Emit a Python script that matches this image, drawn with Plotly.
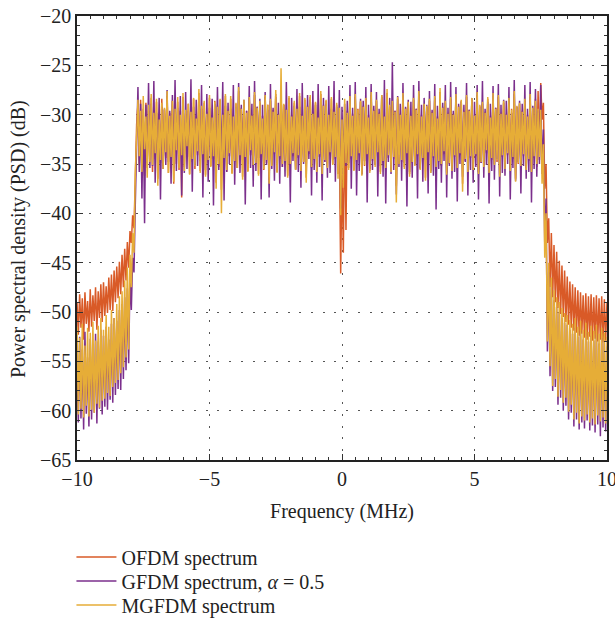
import numpy as np
import plotly.graph_objects as go

# ---------------- data (dB) ----------------
# left out-of-band segment: x = -10.00 ... -7.75 (step 0.05)
ofdm_left = [-49.0, -52.3, -48.2, -51.6, -48.6, -52.8, -48.0, -51.2, -48.9, -52.0,
             -47.7, -51.5, -48.3, -50.9, -47.5, -51.8, -47.9, -50.6, -47.2, -51.0,
             -47.0, -50.4, -47.4, -50.1, -46.5, -49.8, -46.2, -49.9, -45.8, -49.0,
             -45.4, -48.6, -44.9, -48.2, -44.2, -47.5, -43.6, -46.8, -42.9, -45.5,
             -41.8, -43.0, -40.2, -41.5, -36.5, -31.0]
gfdm_left = [-55.0, -61.2, -52.5, -60.8, -53.8, -61.9, -52.0, -60.3, -54.6, -61.6,
             -52.7, -60.9, -53.5, -60.2, -52.2, -61.3, -53.0, -59.8, -51.8, -60.4,
             -52.4, -59.6, -51.5, -59.9, -52.8, -58.9, -51.2, -59.2, -50.6, -58.4,
             -50.9, -57.8, -49.8, -57.9, -49.2, -56.8, -48.5, -55.9, -47.6, -55.2,
             -46.3, -49.8, -44.5, -46.0, -39.0, -33.5]
mgfdm_left = [-51.5, -60.4, -52.6, -59.8, -51.2, -60.7, -53.4, -59.5, -51.6, -60.6,
              -52.1, -59.9, -51.0, -60.2, -52.9, -59.3, -51.4, -59.7, -50.6, -59.0,
              -51.8, -58.8, -50.3, -58.2, -51.5, -58.5, -49.8, -57.6, -50.6, -57.2,
              -49.2, -56.9, -48.4, -56.2, -47.9, -55.6, -46.8, -54.6, -45.5, -53.8,
              -44.2, -47.5, -42.0, -44.0, -36.0, -31.5]

# in-band segment: x = -7.70 ... 7.45 (step 0.05)
ofdm_band = [
    -29.0, -35.1, -28.5, -34.6, -30.0, -36.2, -28.8, -35.4, -29.6, -34.0,
    -28.3, -35.8, -29.9, -34.5, -28.7, -36.5, -30.1, -34.9, -28.4, -35.2,
    -29.5, -34.4, -28.1, -35.9, -29.8, -34.7, -28.6, -37.0, -29.2, -35.0,
    -28.7, -35.6, -29.6, -38.4, -28.2, -35.3, -29.9, -34.2, -28.9, -36.0,
    -29.3, -34.8, -28.4, -35.5, -30.0, -34.1, -27.8, -35.7, -29.4, -34.6,
    -28.8, -36.1, -29.7, -34.9, -28.3, -35.2, -30.2, -34.5, -28.6, -36.9,
    -29.1, -35.3, -28.5, -37.6, -29.8, -34.7, -28.1, -35.8, -29.5, -34.2,
    -28.4, -35.9, -30.0, -34.8, -28.9, -35.4, -27.6, -34.4, -29.3, -36.3,
    -28.7, -34.6, -29.6, -35.7, -28.3, -34.1, -30.0, -35.2, -28.0, -35.0,
    -29.2, -36.0, -28.8, -34.3, -30.1, -35.6, -28.2, -34.9, -29.0, -36.6,
    -28.6, -35.1, -29.5, -34.0, -27.9, -35.8, -29.9, -34.5, -28.0, -35.3,
    -29.0, -34.9, -29.4, -36.2, -28.3, -35.0, -30.0, -34.2, -28.8, -35.5,
    -29.3, -34.4, -28.1, -35.6, -29.9, -34.8, -28.5, -36.4, -29.1, -34.0,
    -28.2, -35.4, -29.7, -34.6, -28.8, -35.7, -30.1, -34.3, -27.9, -35.9,
    -29.0, -34.8, -28.6, -35.3, -29.8, -34.1, -28.4, -35.0, -29.5, -34.5,
    -29.0, -36.0, -33.0, -46.1, -35.5, -44.0, -30.5, -41.7, -29.6, -35.4,
    -28.3, -34.5, -29.9, -35.6, -28.2, -34.8, -29.4, -34.1, -28.7, -36.0,
    -29.1, -35.2, -28.4, -34.3, -30.0, -35.7, -28.0, -34.7, -29.5, -35.1,
    -28.6, -34.0, -29.8, -35.8, -28.2, -34.9, -30.1, -35.3, -27.8, -34.4,
    -29.2, -35.6, -28.7, -34.5, -29.6, -37.2, -28.4, -35.0, -29.9, -34.8,
    -28.0, -35.3, -29.3, -34.1, -28.8, -36.0, -30.0, -34.9, -28.5, -35.0,
    -29.4, -34.2, -27.9, -35.5, -30.0, -34.6, -29.0, -36.4, -29.2, -34.0,
    -28.6, -35.7, -29.7, -34.4, -28.3, -35.1, -30.2, -34.8, -27.7, -35.2,
    -29.2, -34.0, -28.8, -35.9, -29.8, -35.0, -28.4, -35.5, -29.9, -34.3,
    -28.1, -35.2, -29.1, -34.1, -28.7, -37.0, -29.6, -34.7, -28.2, -35.6,
    -29.5, -34.4, -28.5, -35.4, -30.0, -34.2, -28.0, -35.8, -29.1, -34.9,
    -28.9, -35.1, -29.7, -33.9, -28.4, -35.7, -30.1, -34.6, -28.1, -35.0,
    -29.3, -34.8, -28.2, -36.1, -29.8, -34.3, -28.8, -35.3, -29.9, -34.1,
    -28.5, -35.5, -29.4, -34.5, -27.9, -36.5, -29.2, -35.0, -28.9, -35.1,
    -29.6, -34.2, -28.6, -35.4, -30.0, -34.7, -28.2, -35.6, -29.3, -34.4,
    -28.4, -35.3, -27.6, -34.6]
gfdm_band = [
    -27.2, -35.8, -28.9, -38.5, -29.4, -41.0, -29.0, -34.9, -26.8, -35.4,
    -28.9, -35.2, -26.6, -36.9, -29.8, -34.4, -28.3, -38.6, -29.2, -35.5,
    -29.4, -35.1, -27.5, -34.8, -29.6, -37.0, -28.0, -35.4, -26.5, -35.7,
    -29.3, -34.6, -28.1, -38.2, -29.1, -35.9, -27.7, -35.5, -29.6, -34.3,
    -26.4, -37.8, -29.2, -35.1, -28.5, -35.2, -29.0, -34.7, -27.0, -38.4,
    -29.7, -35.6, -27.9, -36.8, -29.3, -34.5, -28.4, -39.2, -28.9, -35.3,
    -27.2, -35.6, -29.5, -34.9, -26.7, -38.7, -29.1, -35.8, -28.8, -35.0,
    -29.4, -34.8, -27.0, -37.1, -29.2, -35.4, -26.8, -35.9, -29.0, -34.6,
    -28.5, -39.1, -29.6, -35.0, -27.1, -35.4, -28.9, -37.3, -26.6, -35.7,
    -29.2, -34.4, -28.4, -38.6, -29.0, -35.2, -27.7, -35.1, -29.5, -38.4,
    -26.9, -35.5, -29.3, -36.7, -28.2, -34.9, -28.8, -37.0, -27.6, -35.3,
    -29.0, -36.3, -26.7, -35.1, -29.6, -38.9, -28.3, -34.7, -29.1, -35.6,
    -27.4, -35.8, -29.2, -37.4, -26.8, -35.0, -29.7, -35.2, -28.0, -34.5,
    -28.5, -38.2, -27.6, -35.6, -29.0, -36.9, -26.9, -35.3, -29.1, -38.7,
    -28.3, -34.8, -28.9, -36.4, -27.1, -35.9, -29.4, -34.6, -26.6, -36.8,
    -29.2, -35.4, -27.5, -39.5, -29.2, -36.0, -28.9, -35.2, -28.6, -34.9,
    -27.0, -37.5, -29.3, -35.0, -26.7, -38.2, -29.8, -35.7, -28.4, -36.1,
    -28.6, -34.7, -27.2, -38.9, -29.0, -35.5, -26.9, -35.6, -29.1, -35.1,
    -27.7, -38.3, -29.4, -35.2, -28.0, -36.3, -26.5, -39.0, -29.1, -34.8,
    -28.3, -36.0, -24.7, -35.6, -29.6, -38.1, -28.1, -35.3, -28.9, -36.7,
    -26.8, -34.9, -29.2, -39.3, -28.5, -35.8, -28.7, -36.4, -27.0, -35.1,
    -29.4, -38.5, -26.6, -35.4, -29.0, -36.8, -28.3, -34.6, -29.0, -38.0,
    -27.6, -35.9, -29.5, -36.2, -26.9, -39.6, -29.1, -35.5, -28.4, -36.9,
    -28.8, -34.7, -27.0, -38.4, -29.3, -35.2, -26.7, -36.5, -29.6, -35.8,
    -27.2, -38.8, -28.9, -35.0, -28.6, -36.3, -29.0, -34.8, -26.8, -38.2,
    -29.5, -35.6, -28.3, -36.9, -28.7, -35.3, -27.0, -38.6, -29.2, -34.9,
    -26.6, -36.4, -29.4, -35.1, -28.7, -39.0, -28.9, -35.7, -27.1, -36.6,
    -29.3, -34.5, -26.9, -38.3, -29.0, -35.9, -28.5, -36.2, -28.6, -35.0,
    -27.2, -38.6, -29.8, -35.4, -26.5, -36.7, -29.2, -34.8, -28.6, -38.0,
    -28.9, -35.2, -27.0, -36.5, -29.4, -35.8, -26.7, -38.9, -29.1, -35.5,
    -27.4, -36.3, -29.6, -35.0]
mgfdm_band = [
    -28.5, -34.2, -29.6, -35.8, -28.1, -33.5, -30.2, -36.4, -29.0, -34.8,
    -27.9, -35.1, -29.8, -33.9, -28.4, -37.2, -30.5, -34.6, -28.8, -35.5,
    -29.3, -33.8, -27.6, -35.9, -30.1, -34.3, -28.6, -36.8, -29.4, -33.6,
    -28.2, -35.4, -30.0, -34.1, -27.8, -35.7, -29.5, -33.2, -28.9, -36.1,
    -29.7, -34.5, -28.3, -35.2, -30.4, -33.7, -27.4, -35.9, -29.1, -34.0,
    -28.6, -36.3, -29.9, -34.6, -28.0, -35.3, -30.3, -34.2, -28.7, -37.5,
    -29.2, -35.0, -28.4, -40.0, -30.0, -34.4, -27.9, -35.6, -29.6, -33.9,
    -28.1, -36.0, -30.2, -34.7, -28.8, -35.4, -27.2, -34.1, -29.4, -36.6,
    -28.5, -34.3, -29.8, -35.8, -28.2, -33.6, -30.1, -35.1, -27.7, -34.9,
    -29.3, -36.2, -28.6, -34.0, -30.4, -35.5, -28.0, -34.6, -29.0, -37.0,
    -28.4, -35.2, -29.7, -33.8, -27.5, -35.9, -30.0, -34.2, -25.3, -35.0,
    -28.9, -34.7, -29.5, -36.4, -28.1, -35.0, -30.2, -33.9, -28.6, -35.6,
    -29.4, -34.1, -27.8, -35.7, -30.1, -34.8, -28.3, -36.9, -29.2, -33.7,
    -28.0, -35.3, -29.9, -34.5, -28.7, -35.8, -30.3, -34.0, -27.6, -36.0,
    -29.1, -34.6, -28.5, -35.4, -30.0, -33.8, -28.2, -35.1, -29.7, -34.3,
    -28.8, -36.5, -29.3, -40.2, -30.5, -37.4, -28.4, -34.9, -29.8, -35.6,
    -28.1, -34.2, -30.1, -35.7, -27.9, -34.6, -29.5, -33.9, -28.6, -36.2,
    -29.2, -35.1, -28.3, -34.0, -30.3, -35.9, -27.7, -34.5, -29.6, -35.3,
    -28.5, -33.8, -29.9, -36.0, -28.0, -34.7, -30.2, -35.4, -27.4, -34.1,
    -29.0, -35.8, -28.6, -34.3, -29.7, -38.9, -28.2, -35.0, -30.0, -34.6,
    -27.8, -35.5, -29.4, -33.9, -28.7, -36.3, -30.1, -34.8, -28.3, -35.2,
    -29.5, -34.0, -27.6, -35.6, -30.2, -34.4, -28.9, -36.7, -29.1, -33.8,
    -28.4, -35.9, -29.8, -34.2, -28.1, -35.3, -30.4, -34.7, -27.3, -35.0,
    -29.3, -33.7, -28.6, -36.1, -29.9, -34.9, -28.2, -35.7, -30.0, -34.1,
    -27.9, -35.4, -29.2, -33.9, -28.5, -37.8, -29.7, -34.5, -28.0, -35.8,
    -29.6, -34.2, -28.3, -35.6, -30.1, -34.0, -27.7, -36.0, -29.0, -34.8,
    -28.7, -35.3, -29.8, -33.6, -28.2, -35.9, -30.3, -34.4, -27.8, -35.1,
    -29.4, -34.6, -28.0, -36.3, -29.9, -34.1, -28.6, -35.5, -30.0, -33.9,
    -28.3, -35.7, -29.5, -34.3, -27.6, -36.8, -29.1, -34.9, -28.8, -35.2,
    -29.7, -34.0, -28.4, -35.6, -30.2, -34.5, -27.9, -35.8, -29.3, -34.2,
    -28.6, -35.0, -29.4, -34.3]

# right out-of-band segment: x = 7.50 ... 10.00 (step 0.05)
ofdm_right = [-26.8, -30.5, -28.8, -37.5, -35.0, -43.0, -40.5, -47.5, -42.0, -48.5,
              -43.2, -49.0, -43.9, -49.6, -44.8, -50.2, -45.3, -50.5, -45.8, -51.0,
              -46.4, -51.3, -46.9, -51.6, -47.2, -51.9, -47.5, -52.1, -47.8, -52.4,
              -48.0, -52.2, -48.3, -52.6, -48.1, -52.8, -48.4, -52.5, -48.2, -52.9,
              -48.5, -52.7, -48.3, -53.0, -48.6, -52.8, -48.4, -53.1, -48.7, -52.9, -49.0]
gfdm_right = [-27.0, -36.0, -31.5, -43.0, -38.5, -54.0, -46.0, -56.5, -47.5, -58.0,
              -48.8, -57.6, -49.5, -59.4, -50.0, -58.7, -50.6, -60.0, -51.1, -59.5,
              -51.3, -60.9, -51.8, -60.2, -52.2, -61.6, -51.6, -60.9, -52.5, -61.9,
              -51.9, -61.2, -52.8, -61.8, -52.1, -61.0, -53.0, -62.0, -52.4, -61.5,
              -52.9, -62.2, -52.3, -61.4, -53.2, -62.6, -52.6, -61.7, -53.1, -62.1, -53.5]
mgfdm_right = [-29.5, -37.0, -33.0, -44.5, -40.0, -53.0, -45.0, -55.5, -46.5, -57.5,
               -47.8, -56.8, -48.5, -58.6, -49.0, -57.9, -49.6, -59.2, -50.1, -58.7,
               -50.3, -60.1, -50.8, -59.4, -51.2, -60.9, -50.6, -60.2, -51.5, -61.3,
               -50.9, -60.6, -51.8, -61.0, -51.1, -60.4, -52.0, -61.2, -51.4, -60.8,
               -51.9, -61.4, -51.3, -60.5, -52.2, -61.1, -51.6, -60.7, -52.1, -61.3, -52.5]

x_tickvals = [-10, -5, 0, 5, 10]
y_tickvals = [-65, -60, -55, -50, -45, -40, -35, -30, -25, -20]

names = ["OFDM spectrum", "GFDM spectrum, <i>α</i> = 0.5", "MGFDM spectrum"]
colors = ["#D95A27", "#7B2F8C", "#E6AD37"]
x_title = "Frequency (MHz)"
y_title = "Power spectral density (PSD) (dB)"


def assemble(left, band, right):
    x = np.concatenate([np.linspace(-10, -7.75, len(left)),
                        np.linspace(-7.7, 7.45, len(band)),
                        np.linspace(7.5, 10, len(right))])
    y = np.array(left + band + right, dtype=float)
    return x, y


series = [assemble(ofdm_left, ofdm_band, ofdm_right),
          assemble(gfdm_left, gfdm_band, gfdm_right),
          assemble(mgfdm_left, mgfdm_band, mgfdm_right)]

FONT = "'Liberation Serif', 'Times New Roman', Times, serif"
TXT = "#222"
legend_ids = ["legend", "legend2", "legend3"]

fig = go.Figure()
for (x, y), name, col, lg in zip(series, names, colors, legend_ids):
    fig.add_trace(go.Scatter(x=x, y=y, mode="lines", name=name, legend=lg,
                             line=dict(color=col, width=1.5)))

axis_common = dict(
    automargin=False,
    showline=True, linecolor="#222", linewidth=1.5, mirror="allticks",
    ticks="inside", ticklen=6, tickwidth=1.2, tickcolor="#333",
    showgrid=True, gridcolor="#555", gridwidth=1.2, griddash="2px,9.7px",
    zeroline=False, ticklabeloverflow="allow",
    tickfont=dict(family=FONT, size=20, color=TXT),
)

fig.update_xaxes(range=[-10, 10], tickvals=x_tickvals,
                 minor=dict(dtick=0.5, ticks="inside", ticklen=3, tickcolor="#333", showgrid=False),
                 title=dict(text=x_title, font=dict(family=FONT, size=20, color=TXT)),
                 **axis_common)
fig.update_yaxes(range=[-65, -20], tickvals=y_tickvals,
                 minor=dict(dtick=1, ticks="inside", ticklen=3, tickcolor="#333", showgrid=False),
                 **axis_common)

# plot area spans x = 77 .. 607 px (530 px), y = 16 .. 460 px (444 px)
fig.add_annotation(text=y_title, xref="paper", yref="paper",
                   x=(18 - 77) / 530, y=(460 - 239) / 444, xanchor="center", yanchor="middle",
                   textangle=-90, showarrow=False,
                   font=dict(family=FONT, size=20, color=TXT))

legend_rows_px = [557, 581, 605]
leg_common = dict(x=-0.0105, xanchor="left", yanchor="middle", bgcolor="rgba(0,0,0,0)",
                  font=dict(family=FONT, size=20, color=TXT), itemwidth=40)
legends = {}
for lg, py in zip(legend_ids, legend_rows_px):
    legends[lg] = dict(y=(460 - py) / 444, **leg_common)

fig.update_layout(
    width=615, height=624,
    margin=dict(l=77, r=8, t=16, b=164, autoexpand=False),
    paper_bgcolor="white", plot_bgcolor="white",
    font=dict(family=FONT, size=20, color=TXT),
    showlegend=True,
    **legends,
)

fig.write_html("out.html",
               config={"displayModeBar": False},
               post_script="document.body.style.margin='0';document.body.style.padding='0';")
